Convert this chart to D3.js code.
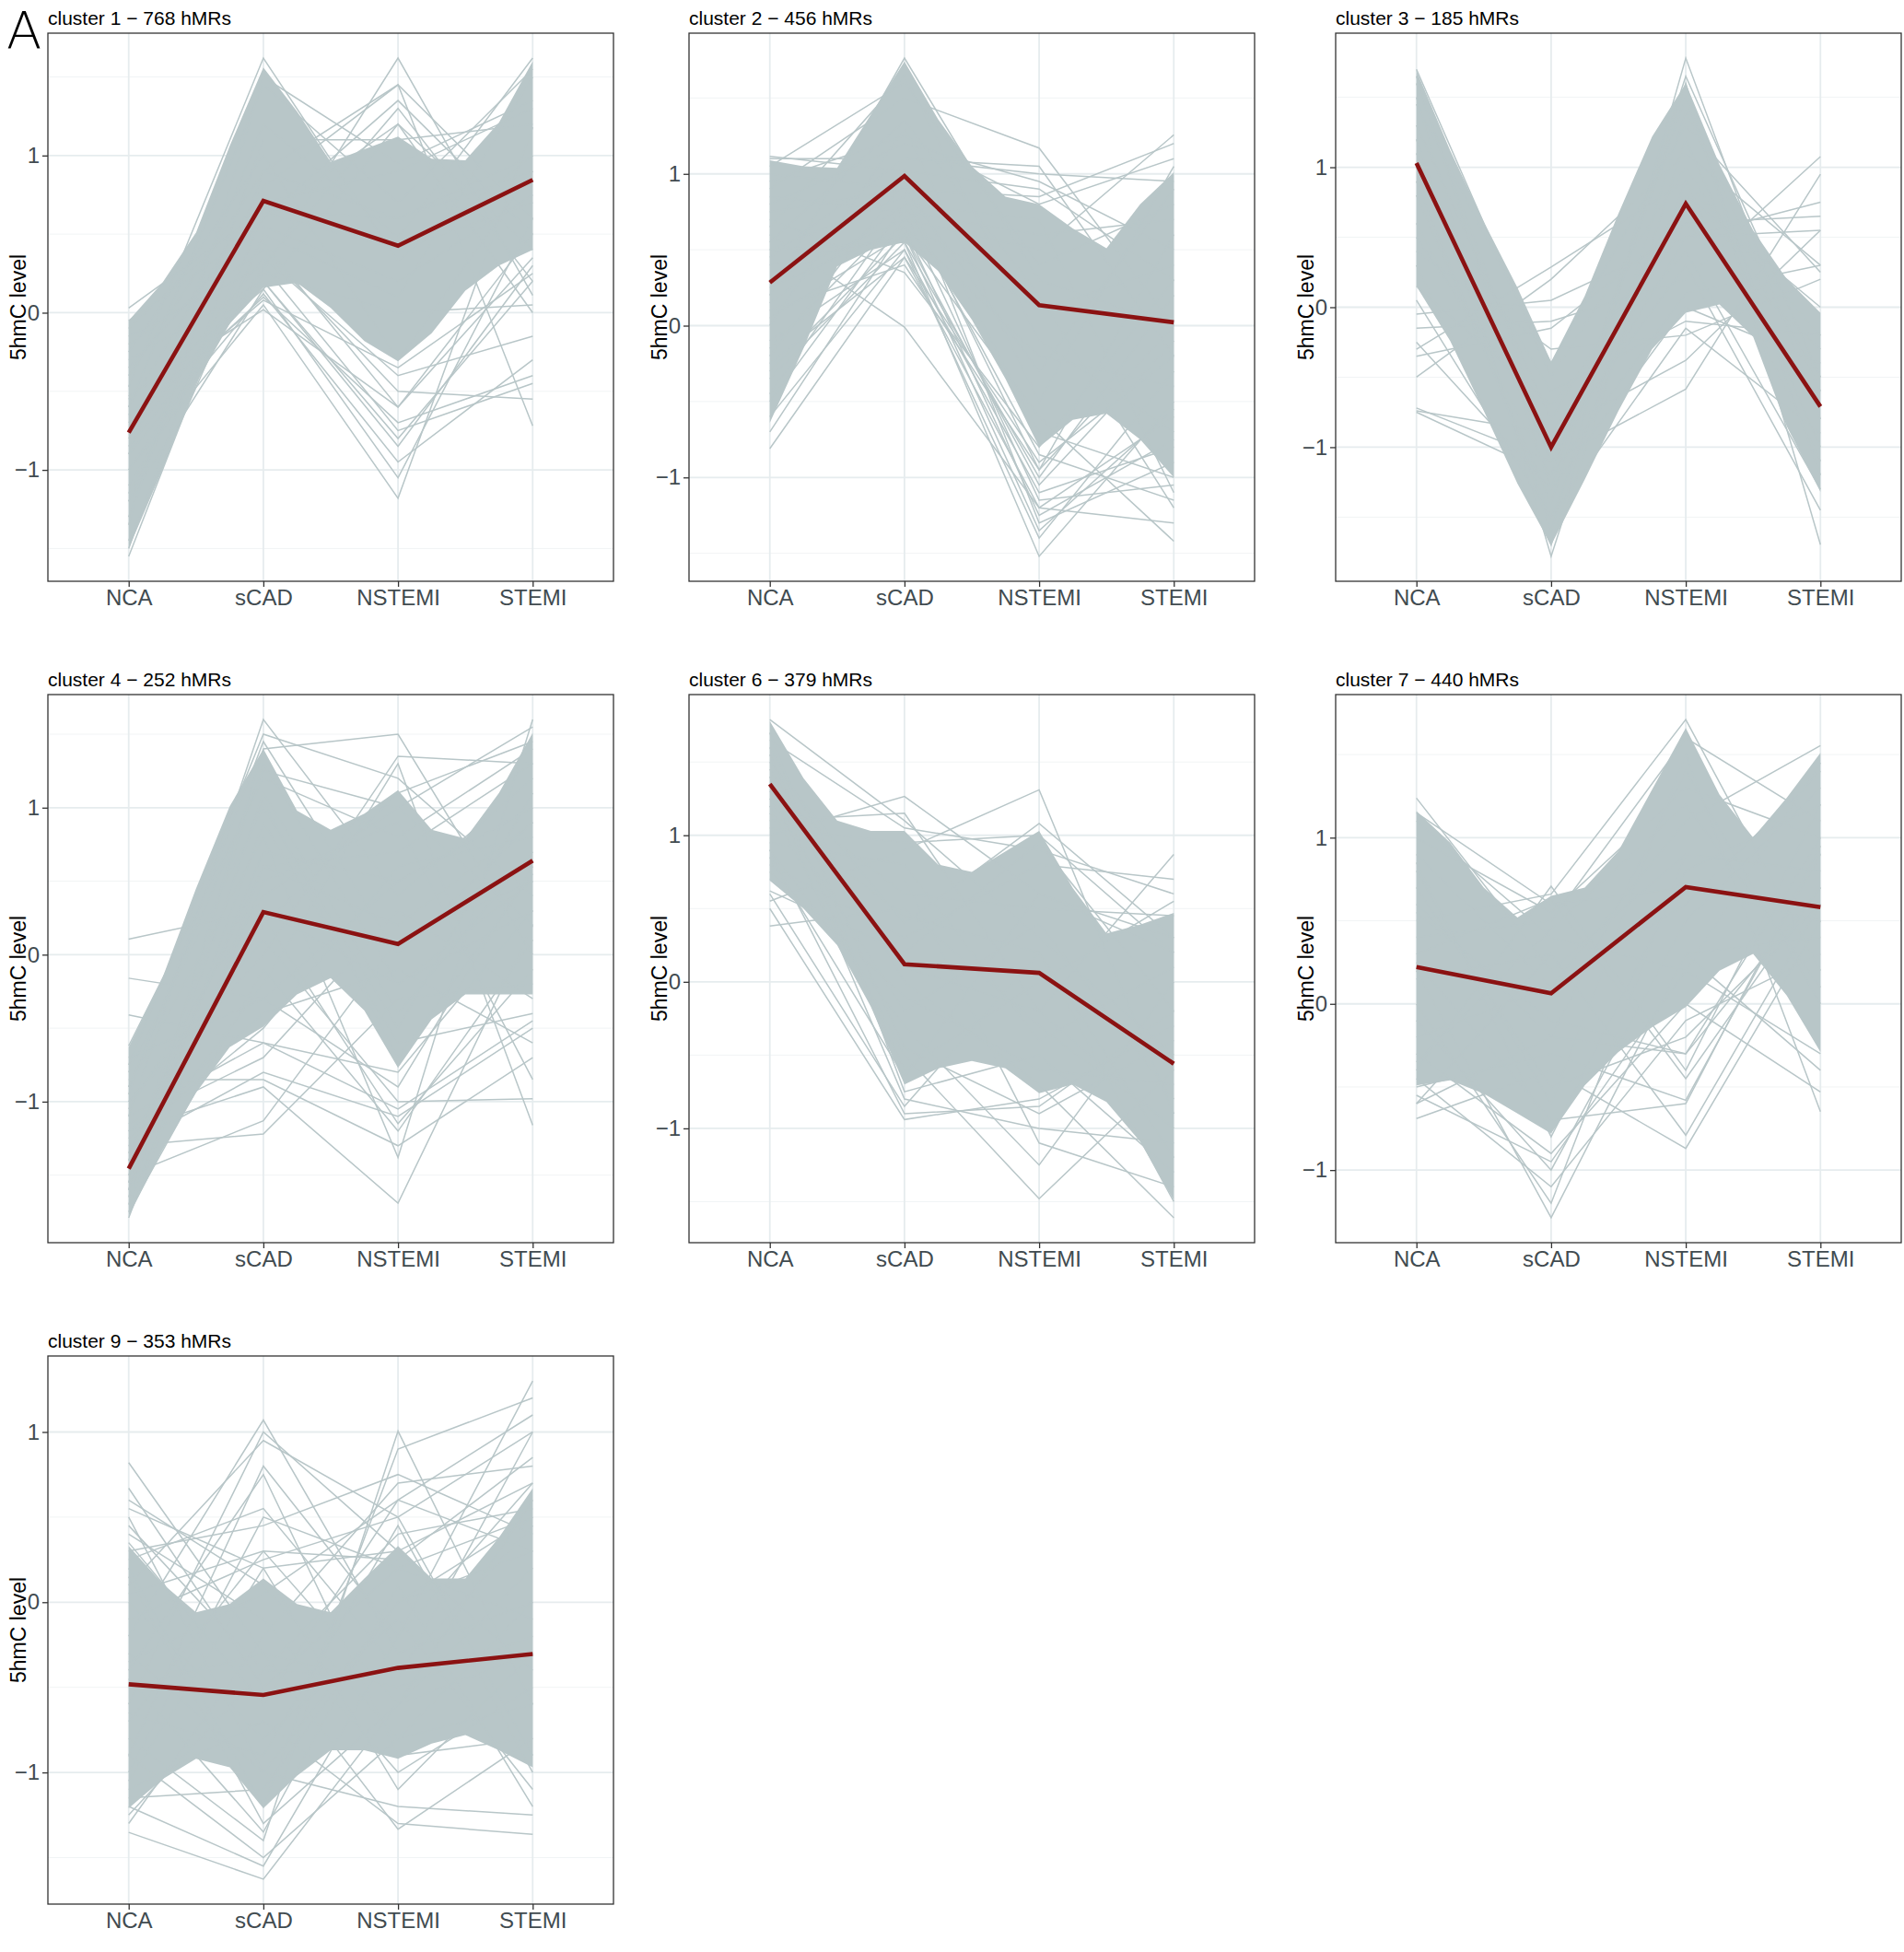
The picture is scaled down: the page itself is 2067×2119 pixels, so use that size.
<!DOCTYPE html>
<html><head><meta charset="utf-8">
<script src="https://cdn.jsdelivr.net/npm/d3@7"></script>
<style>body{margin:0;background:#fff}text{font-family:"Liberation Sans",Arial,Helvetica,sans-serif}</style>
</head><body>
<svg id="chart" width="2067" height="2119"></svg>
<script>
// ---------------- data ----------------
const categories = ["NCA", "sCAD", "NSTEMI", "STEMI"];
const clusterTitles = ["cluster 1 \u2212 768 hMRs", "cluster 2 \u2212 456 hMRs", "cluster 3 \u2212 185 hMRs",
  "cluster 4 \u2212 252 hMRs", "cluster 6 \u2212 379 hMRs", "cluster 7 \u2212 440 hMRs", "cluster 9 \u2212 353 hMRs"];
const yAxisTitle = "5hmC level";
const panelTag = "A";

// cluster means (red lines)
const c1Mean = [-0.763, 0.712, 0.426, 0.845];
const c2Mean = [0.284, 0.986, 0.135, 0.022];
const c3Mean = [1.03, -1.0, 0.74, -0.71];
const c4Mean = [-1.456, 0.29, 0.073, 0.64];
const c6Mean = [1.349, 0.12, 0.061, -0.559];
const c7Mean = [0.222, 0.064, 0.703, 0.582];
const c9Mean = [-0.482, -0.545, -0.386, -0.304];

// outline of the solid (overplotted) region, read at quarter steps between categories
const corePositions = [0, 0.25, 0.5, 0.75, 1, 1.25, 1.5, 1.75, 2, 2.25, 2.5, 2.75, 3];
const c1CoreHigh = [-0.05, 0.19, 0.51, 1.06, 1.56, 1.28, 0.96, 1.04, 1.12, 0.98, 0.97, 1.21, 1.6];
const c1CoreLow = [-1.5, -1.0, -0.45, -0.07, 0.16, 0.19, 0.03, -0.18, -0.31, -0.13, 0.14, 0.3, 0.4];
const c2CoreHigh = [1.09, 1.05, 1.04, 1.39, 1.74, 1.36, 1.05, 0.85, 0.8, 0.64, 0.51, 0.8, 1.01];
const c2CoreLow = [-0.64, -0.15, 0.39, 0.5, 0.55, 0.36, 0.04, -0.35, -0.8, -0.62, -0.58, -0.75, -1.0];
const c3CoreHigh = [1.69, 1.12, 0.61, 0.14, -0.39, 0.08, 0.67, 1.22, 1.6, 1.02, 0.55, 0.2, -0.04];
const c3CoreLow = [0.15, -0.24, -0.74, -1.26, -1.7, -1.23, -0.74, -0.3, -0.04, 0.02, -0.21, -0.85, -1.32];
const c4CoreHigh = [-0.63, -0.16, 0.45, 1.01, 1.4, 0.98, 0.85, 0.96, 1.12, 0.85, 0.79, 1.1, 1.51];
const c4CoreLow = [-1.78, -1.33, -0.94, -0.63, -0.49, -0.27, -0.16, -0.38, -0.77, -0.44, -0.27, -0.27, -0.27];
const c6CoreHigh = [1.78, 1.39, 1.1, 1.03, 1.03, 0.8, 0.75, 0.89, 1.03, 0.64, 0.33, 0.39, 0.47];
const c6CoreLow = [0.69, 0.5, 0.25, -0.17, -0.7, -0.59, -0.54, -0.59, -0.76, -0.7, -0.82, -1.09, -1.49];
const c7CoreHigh = [1.16, 0.97, 0.7, 0.52, 0.65, 0.7, 0.92, 1.29, 1.66, 1.26, 1.0, 1.24, 1.51];
const c7CoreLow = [-0.49, -0.46, -0.54, -0.66, -0.78, -0.49, -0.29, -0.14, -0.02, 0.2, 0.3, 0.05, -0.29];
const c9CoreHigh = [0.33, 0.11, -0.06, -0.01, 0.14, -0.01, -0.06, 0.14, 0.33, 0.14, 0.14, 0.38, 0.67];
const c9CoreLow = [-1.21, -1.04, -0.92, -0.97, -1.21, -1.02, -0.87, -0.87, -0.92, -0.83, -0.78, -0.87, -0.97];

// individual hMR profiles (NCA, sCAD, NSTEMI, STEMI)
const c1Lines = [
  [0.03, 0.65, 0.6, 0.9], [-0.47, 1.62, 0.33, 1.0], [-1.55, 0.64, 0.4, 0.7], [-0.53, 0.02, -0.6, 0.5],
  [-0.8, 0.27, 1.62, 0.11], [-1.0, 0.05, -1.18, 1.18], [-0.6, 0.8, 1.45, -0.72], [-0.9, 1.2, 0.48, 1.62],
  [-1.2, 0.15, -1.05, 0.6], [-0.3, 0.2, -0.85, 0.3], [-0.7, 0.1, -0.7, -0.4], [-1.1, 0.3, 1.3, 0.2],
  [-0.4, 0.9, 1.45, 0.6], [-1.3, 1.1, 1.1, 1.2], [-0.2, 0.4, -0.5, -0.55], [-0.9, 0.12, -0.95, -0.3],
  [-1.45, 0.5, 0.1, 1.5], [-0.1, 0.7, 0.9, 1.3], [-0.6, 1.45, 0.7, 1.55], [-1.0, 0.25, 0.0, 0.05],
  [-1.2, 0.6, 1.2, 0.4], [-0.25, 1.0, -0.3, 0.9], [-0.75, 0.35, -0.4, -0.15], [-1.5, 0.9, 0.6, 1.0],
  [-0.05, 0.55, 0.2, 0.75], [-0.65, 0.08, -0.35, 0.25], [-1.35, 1.5, 0.95, 1.35], [-0.15, 0.3, -0.75, -0.45],
  [-0.85, 0.2, -0.8, 0.2], [-1.15, 0.45, -0.6, 0.35], [-0.55, 0.15, 1.2, 0.0], [-0.35, 0.6, 1.35, 0.5]
];
const c2Lines = [
  [0.6, -0.01, -1.2, -0.6], [1.116, 1.02, 0.9, 0.3], [-0.81, 0.45, -0.9, -0.2], [0.2, 1.763, 0.3, 0.0],
  [0.9, 1.5, 1.17, 0.0], [0.5, 0.55, -1.52, -0.5], [0.3, 0.7, 0.5, 1.257], [-0.3, 0.6, -0.6, -1.42],
  [0.8, 1.2, 0.95, 0.5], [-0.6, 0.5, -1.1, -0.8], [1.0, 0.9, -0.3, 0.9], [0.0, 1.3, -0.5, 1.05],
  [-0.45, 0.8, 0.7, -1.1], [0.7, 0.35, -0.8, 0.3], [0.45, 1.1, 1.05, -0.2], [-0.2, 0.95, -1.3, -0.9],
  [1.05, 1.6, 0.4, 0.8], [0.1, 0.4, -0.95, 0.6], [-0.7, 0.65, -0.2, -0.4], [0.55, 1.35, 0.2, -1.2],
  [0.85, 0.75, 0.6, 0.7], [-0.1, 0.5, -1.4, -0.3], [0.3, 1.0, -0.7, -1.0], [0.95, 1.25, 0.8, 1.1],
  [-0.5, 0.7, 0.1, 0.4], [0.65, 1.65, -0.1, -0.7], [-0.25, 0.45, -1.2, -1.3], [1.1, 1.1, 1.0, 0.95],
  [0.4, 0.6, -1.05, -0.1], [0.15, 0.8, -0.85, -1.15], [0.75, 0.9, 0.85, 1.2], [-0.35, 0.55, -1.0, 0.2],
  [0.25, 0.65, -1.25, -0.75], [-0.15, 0.75, -1.15, -1.05], [0.5, 0.85, -0.95, 0.0], [0.05, 0.6, -1.35, -0.55]
];
const c3Lines = [
  [1.70, -0.5, 1.0, -0.5], [-0.3, 0.287, 0.9, -0.2], [-0.5, 0.2, 1.1, 0.3], [-0.05, 0.05, 0.5, 0.75],
  [-0.15, -0.1, 0.2, 1.076], [-0.72, -1.1, -0.585, 0.95], [-0.74, -0.9, -0.38, 0.55], [-0.75, -1.2, 0.1, 0.3],
  [-0.25, -1.3, 0.0, -0.4], [-0.35, -0.15, 0.6, 0.65], [1.5, -1.78, 1.2, -1.0], [1.2, -1.6, 1.78, -0.8],
  [0.8, -1.4, 1.6, -1.696], [0.4, -0.3, -0.2, 0.2], [1.6, -1.0, 0.3, -1.45], [0.3, -1.7, 1.4, -0.6],
  [1.0, -0.6, -0.1, -0.2], [0.6, -1.2, 1.5, -1.2], [1.3, -0.8, 0.8, 0.0], [0.15, -0.7, 0.4, -1.3],
  [0.9, -1.5, -0.15, -0.9], [1.45, -0.4, 1.3, 0.25], [0.5, -0.9, 0.6, -0.3], [0.05, -1.5, 0.9, -1.1],
  [1.1, -1.1, 0.5, 0.55], [1.65, -1.3, 1.65, -0.5]
];
const c4Lines = [
  [0.106, 0.3, -0.2, 0.5], [-0.16, -0.3, 0.5, 1.0], [-0.41, -0.6, -0.8, 0.3], [-0.62, 1.2, 0.8, 1.4],
  [-1.79, 0.6, 0.2, 0.9], [-1.1, 1.6, 0.4, 1.2], [-1.3, -1.22, -0.3, -0.2], [-1.5, -1.13, 0.1, 0.5],
  [-1.2, -0.9, -1.69, 0.2], [-1.6, 1.4, 1.5, 0.0], [-0.9, 0.8, -1.38, 1.6], [-1.4, -0.2, 1.3, -1.16],
  [-1.0, 0.1, -1.0, -0.98], [-1.7, 0.5, 0.9, -0.85], [-0.8, 1.0, -0.5, 1.1], [-1.25, -0.5, 0.6, 0.8],
  [-1.55, 1.3, -0.2, 0.3], [-1.45, 0.2, 1.1, 1.45], [-0.7, -0.3, -0.9, 0.6], [-1.65, 0.9, -0.6, -0.4],
  [-1.15, -0.7, 0.3, -0.3], [-1.35, 0.6, 0.7, 1.3], [-0.95, 1.45, 0.0, 0.9], [-1.75, -0.1, -1.2, 0.1],
  [-1.05, 0.4, 1.0, 1.55], [-1.6, 1.1, -0.4, 0.7], [-1.2, -0.4, -0.1, -0.6], [-1.5, 0.7, 0.5, 1.0],
  [-0.75, 1.5, 1.2, 0.4], [-1.3, -0.8, -1.1, -0.5], [-1.0, 0.0, 1.35, 1.3], [-1.4, 1.05, -0.7, 0.55],
  [-0.85, -0.85, -1.3, -0.7], [-1.1, -0.6, -1.05, -0.45], [-1.55, 0.25, -1.15, -0.1], [-0.9, 1.25, 1.0, 0.2]
];
const c6Lines = [
  [1.79, 1.1, 0.3, -0.5], [1.0, 1.265, 0.6, 0.2], [0.38, 0.5, -0.3, -1.0], [0.5, -0.94, -0.8, -0.3],
  [0.6, -0.85, 0.2, -1.2], [0.55, 0.9, 1.31, -0.9], [1.5, 0.4, 1.08, 0.3], [1.2, -0.5, -1.48, -0.6],
  [0.9, -0.3, -1.25, 0.0], [1.6, 0.0, -0.7, -1.61], [1.1, 1.15, -0.2, 0.87], [0.8, 0.3, 0.8, 0.7],
  [1.4, -0.6, 0.0, 0.55], [0.7, 0.7, -1.1, -1.4], [1.3, 0.6, 0.5, 0.45], [1.7, -0.75, -0.5, -1.3],
  [0.62, 0.2, 0.95, -0.2], [1.25, -0.2, 0.4, -0.8], [0.95, 0.8, -0.4, 0.1], [1.55, -0.45, -0.9, -0.4],
  [1.15, 0.45, 0.2, -1.5], [0.85, -0.65, 0.6, 0.3], [1.45, 0.1, -0.2, -1.0], [1.05, 0.95, 1.0, 0.2],
  [0.75, -0.1, -0.6, -0.7], [1.65, 1.05, 0.9, 0.6], [1.35, -0.8, -1.0, -1.1], [0.9, -0.9, -0.85, -0.2]
];
const c7Lines = [
  [1.238, 0.2, 0.9, 0.8], [1.0, 0.55, 1.3, 1.0], [-0.69, -0.4, -0.87, 0.5], [-0.6, 0.3, -0.79, 0.6],
  [0.2, -1.287, 0.3, 0.4], [0.0, -1.2, 0.9, 0.9], [-0.4, 0.708, -0.4, 1.2], [0.5, 0.66, 1.711, 0.2],
  [0.8, -0.6, 1.5, -0.649], [-0.3, -0.9, 0.0, -0.53], [0.9, 0.1, 1.1, 1.554], [-0.5, -0.3, -0.58, 0.9],
  [0.3, 0.63, -0.45, 0.7], [-0.1, -1.0, 0.5, 1.3], [0.6, -0.2, 1.4, 0.0], [1.1, 0.4, 0.2, -0.3],
  [-0.2, 0.1, 0.6, 1.4], [0.7, -0.5, -0.2, 0.6], [0.4, 0.5, 1.6, 1.1], [-0.45, -1.1, -0.1, 0.3],
  [0.15, 0.3, 0.3, -0.4], [0.85, -0.8, 0.8, 1.2], [-0.35, 0.45, 1.2, 0.1], [0.55, -0.1, -0.3, 1.0],
  [1.15, 0.6, 0.7, 0.5], [-0.55, -0.95, 0.2, 1.45], [0.25, -0.7, -0.6, 0.95], [-0.6, -0.2, -0.3, 0.7]
];
const c9Lines = [
  [0.82, -0.3, -0.5, -0.2], [0.67, -0.5, 0.2, 0.5], [0.6, 0.1, -0.8, -0.6], [0.5, -1.0, 0.0, 0.3],
  [-0.2, 1.07, -0.3, 0.0], [-0.6, 1.0, 0.3, -0.4], [0.1, 0.95, 0.5, 1.0], [-0.9, 0.8, -0.2, 0.7],
  [-0.4, 0.75, -0.9, -0.8], [-1.0, 0.5, 0.2, -0.1], [0.3, 0.45, 0.75, 0.4], [-1.352, -1.627, -0.6, -0.3],
  [-1.2, -1.55, -0.2, 1.30], [-0.8, -1.4, 1.005, -0.6], [0.2, -1.2, 0.9, 1.2], [-0.5, -0.3, -1.333, -0.8],
  [-1.1, -0.7, -1.3, -1.364], [-0.3, -1.0, -1.2, -1.25], [0.35, -0.6, 0.6, 1.1], [-1.3, -0.2, 0.7, 0.8],
  [-0.7, 0.3, -0.6, 0.2], [0.0, -0.8, -0.1, -1.1], [-1.15, -1.1, 0.0, 0.5], [0.4, -0.1, -1.0, -0.5],
  [-0.9, -1.5, -0.8, 0.0], [-0.1, 0.25, 0.5, -0.9], [-1.25, -0.4, -0.45, 1.0], [0.15, -1.3, -0.6, 0.6],
  [0.55, 0.2, 0.3, 0.7], [-0.65, -0.9, 0.45, -1.0], [0.45, -0.4, 0.4, 0.55], [-1.05, 0.2, -1.1, -0.3],
  [0.25, 0.55, -0.4, 0.45], [-0.45, -1.35, 0.1, -1.2], [0.05, 0.3, 0.25, 0.85], [-0.35, 0.05, 0.6, 0.3]
];

// ---------------- assembly ----------------
const panels = [
  { title: clusterTitles[0], mean: c1Mean, lines: c1Lines, lo: c1CoreLow, hi: c1CoreHigh },
  { title: clusterTitles[1], mean: c2Mean, lines: c2Lines, lo: c2CoreLow, hi: c2CoreHigh },
  { title: clusterTitles[2], mean: c3Mean, lines: c3Lines, lo: c3CoreLow, hi: c3CoreHigh },
  { title: clusterTitles[3], mean: c4Mean, lines: c4Lines, lo: c4CoreLow, hi: c4CoreHigh },
  { title: clusterTitles[4], mean: c6Mean, lines: c6Lines, lo: c6CoreLow, hi: c6CoreHigh },
  { title: clusterTitles[5], mean: c7Mean, lines: c7Lines, lo: c7CoreLow, hi: c7CoreHigh },
  { title: clusterTitles[6], mean: c9Mean, lines: c9Lines, lo: c9CoreLow, hi: c9CoreHigh }
];

const colLeft = [52, 748, 1450], rowTop = [36, 754, 1472];
const W = 614, H = 595;
const GRAY = "#b8c6c8", RED = "#8b1212";

const svg = d3.select("#chart");
svg.append("rect").attr("width", 2067).attr("height", 2119).attr("fill", "#fff");

svg.append("text").attr("x", 7).attr("y", 52).attr("font-size", 56)
  .style("font-family", "'DejaVu Sans', sans-serif").attr("font-weight", 200)
  .attr("fill", "#000").text(panelTag);

panels.forEach((p, i) => {
  const x0 = colLeft[i % 3], y0 = rowTop[Math.floor(i / 3)];
  const g = svg.append("g").attr("transform", `translate(${x0},${y0})`);
  const x = d3.scalePoint().domain(categories).range([0, W]).padding(0.6);
  const xi = d3.scaleLinear().domain([0, categories.length - 1]).range([x(categories[0]), x(categories[categories.length - 1])]);
  const all = p.lines.flat().concat(p.mean);
  const [mn, mx] = d3.extent(all);
  const pad = (mx - mn) * 0.05;
  const y = d3.scaleLinear().domain([mn - pad, mx + pad]).range([H, 0]);
  const [d0, d1] = y.domain();
  const majors = d3.range(Math.ceil(d0), Math.floor(d1) + 1);
  const minors = d3.range(Math.ceil(d0 - 0.5), Math.floor(d1 - 0.5) + 1).map(v => v + 0.5).filter(v => v > d0 && v < d1);

  const clipId = "clip" + i;
  g.append("clipPath").attr("id", clipId).append("rect").attr("width", W).attr("height", H);

  // grid
  const grid = g.append("g");
  grid.selectAll(".minor").data(minors).join("line")
    .attr("x1", 0).attr("x2", W).attr("y1", d => y(d)).attr("y2", d => y(d))
    .attr("stroke", "#f1f4f5").attr("stroke-width", 1);
  grid.selectAll(".major").data(majors).join("line")
    .attr("x1", 0).attr("x2", W).attr("y1", d => y(d)).attr("y2", d => y(d))
    .attr("stroke", "#e6ecee").attr("stroke-width", 1.8);
  grid.selectAll(".vx").data(categories).join("line")
    .attr("x1", d => x(d)).attr("x2", d => x(d)).attr("y1", 0).attr("y2", H)
    .attr("stroke", "#e6ecee").attr("stroke-width", 1.8);

  const plot = g.append("g").attr("clip-path", `url(#${clipId})`);

  // solid overplotted core
  const core = corePositions.map((t, j) => ({ t, lo: p.lo[j], hi: p.hi[j] }));
  plot.append("path").datum(core)
    .attr("d", d3.area().x(d => xi(d.t)).y0(d => y(d.lo)).y1(d => y(d.hi)))
    .attr("fill", GRAY);

  const line = d3.line().x((v, j) => x(categories[j])).y(v => y(v));
  plot.selectAll(".hmr").data(p.lines).join("path")
    .attr("d", line).attr("fill", "none").attr("stroke", GRAY).attr("stroke-width", 1.5);

  plot.append("path").datum(p.mean).attr("d", line)
    .attr("fill", "none").attr("stroke", RED).attr("stroke-width", 4.6).attr("stroke-linejoin", "miter");

  // border
  g.append("rect").attr("width", W).attr("height", H).attr("fill", "none")
    .attr("stroke", "#333").attr("stroke-width", 1.3);

  // axes
  const ax = g.append("g").attr("transform", `translate(0,${H})`)
    .call(d3.axisBottom(x).tickSize(6).tickPadding(3));
  const ay = g.append("g")
    .call(d3.axisLeft(y).tickValues(majors).tickFormat(d3.format("d")).tickSize(6).tickPadding(3));
  [ax, ay].forEach(a => {
    a.select(".domain").remove();
    a.selectAll(".tick line").attr("stroke", "#333").attr("stroke-width", 1.3);
    a.selectAll(".tick text").attr("fill", "#414b50").attr("font-size", 24)
      .style("font-family", "'Liberation Sans', Arial, sans-serif");
  });

  g.append("text").attr("x", 0).attr("y", -9).attr("font-size", 21).attr("fill", "#000").text(p.title);
  g.append("text").attr("transform", `translate(-24,${H / 2}) rotate(-90)`)
    .attr("text-anchor", "middle").attr("font-size", 23).attr("fill", "#000").text(yAxisTitle);
});
</script>
</body></html>
